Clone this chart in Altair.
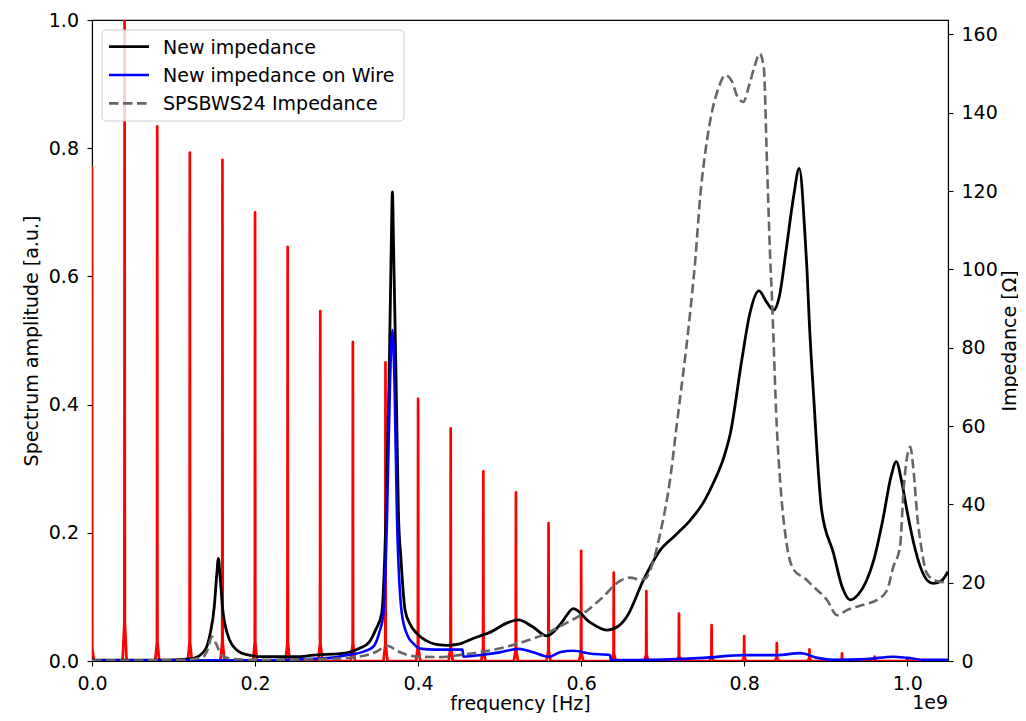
import altair as alt
import pandas as pd

# ---------------- data (frequency in units of 1e9 Hz) ----------------
spec_freq = [0.00, 0.04, 0.08, 0.12, 0.16, 0.20, 0.24, 0.28, 0.32, 0.36,
             0.40, 0.44, 0.48, 0.52, 0.56, 0.60, 0.64, 0.68, 0.72, 0.76,
             0.80, 0.84, 0.88, 0.92, 0.96, 1.00, 1.04]
spec_amp = [0.770, 1.000, 0.834, 0.793, 0.782, 0.700, 0.646, 0.546, 0.498, 0.466,
            0.409, 0.363, 0.296, 0.263, 0.215, 0.172, 0.138, 0.109, 0.074, 0.056,
            0.039, 0.028, 0.018, 0.012, 0.007, 0.003, 0.001]
spec_base = [0.020, 0.060, 0.030, 0.030, 0.030, 0.030, 0.030, 0.028, 0.028, 0.026,
             0.024, 0.022, 0.020, 0.018, 0.016, 0.014, 0.012, 0.010, 0.008, 0.007,
             0.006, 0.005, 0.004, 0.003, 0.002, 0.001, 0.0005]

black_f = [0.0, 0.05, 0.10, 0.124, 0.1387, 0.145, 0.150, 0.153, 0.155, 0.157,
           0.160, 0.166, 0.1775, 0.19, 0.21, 0.25, 0.272, 0.3125, 0.329, 0.340,
           0.348, 0.3554, 0.3607, 0.3644, 0.3670, 0.3685, 0.3700, 0.373, 0.3759, 0.379,
           0.384, 0.390, 0.398, 0.41, 0.419, 0.427, 0.435, 0.45, 0.468, 0.49,
           0.51, 0.523, 0.54, 0.558, 0.575, 0.5906, 0.61, 0.6315, 0.645, 0.656,
           0.6765, 0.697, 0.715, 0.734, 0.75, 0.762, 0.775, 0.783, 0.797, 0.807,
           0.818, 0.828, 0.836, 0.843, 0.852, 0.8605, 0.8675, 0.8748, 0.877, 0.880,
           0.885, 0.895, 0.9096, 0.920, 0.930, 0.940, 0.950, 0.959, 0.970, 0.980,
           0.9865, 0.993, 0.9996, 1.008, 1.016, 1.025, 1.032, 1.042, 1.05]
black_z = [0.2, 0.2, 0.3, 0.7, 2.8, 7.0, 13.9, 22.0, 26.2, 22.0,
           13.9, 7.0, 2.8, 1.6, 1.1, 1.1, 1.5, 2.1, 3.3, 4.8,
           8.0, 12.2, 37.7, 71.7, 105.0, 119.8, 105.0, 71.7, 37.7, 26.0,
           13.0, 9.5, 7.1, 5.2, 4.4, 4.1, 4.0, 4.3, 5.8, 7.5,
           9.8, 10.5, 8.8, 6.4, 9.5, 13.4, 10.0, 7.9, 8.8, 11.3,
           20.7, 28.3, 32.0, 36.0, 40.5, 45.4, 52.0, 58.1, 76.8, 88.8,
           94.5, 91.5, 89.6, 93.0, 105.8, 118.5, 125.8, 108.0, 100.0, 86.0,
           68.3, 38.5, 27.5, 19.0, 15.6, 17.0, 20.5, 25.8, 36.0, 47.0,
           50.9, 46.0, 38.5, 30.0, 24.1, 20.5, 19.8, 20.5, 22.8]

blue_f = [0.0, 0.2, 0.251, 0.30, 0.3125, 0.333, 0.345, 0.352, 0.3575, 0.362,
          0.3656, 0.3685, 0.371, 0.374, 0.380, 0.387, 0.394, 0.398, 0.405, 0.42,
          0.4545, 0.4555, 0.48, 0.50, 0.523, 0.54, 0.56, 0.575, 0.5906, 0.61,
          0.6355, 0.6365, 0.70, 0.75, 0.80, 0.84, 0.869, 0.89, 0.909, 0.95,
          0.983, 1.0, 1.02, 1.05]
blue_z = [0.1, 0.2, 0.4, 1.0, 1.5, 2.4, 3.65, 7.0, 12.2, 37.7,
          71.7, 84.5, 71.7, 37.7, 12.2, 6.5, 4.5, 3.65, 3.1, 2.9,
          2.9, 1.1, 1.6, 2.2, 3.1, 2.3, 1.1, 2.3, 2.6, 1.9,
          1.5, 0.25, 0.4, 0.8, 1.5, 1.5, 2.0, 0.8, 0.3, 0.5,
          1.1, 0.8, 0.3, 0.3]

gray_f = [0.0, 0.10, 0.135, 0.142, 0.147, 0.152, 0.159, 0.17, 0.20, 0.30,
          0.33, 0.35, 0.362, 0.375, 0.39, 0.40, 0.427, 0.45, 0.48, 0.50,
          0.523, 0.558, 0.58, 0.603, 0.625, 0.648, 0.66, 0.672, 0.678, 0.689,
          0.697, 0.709, 0.717, 0.734, 0.740, 0.746, 0.753, 0.760, 0.768, 0.777,
          0.785, 0.792, 0.799, 0.806, 0.813, 0.819, 0.824, 0.828, 0.832, 0.834,
          0.840, 0.844, 0.852, 0.861, 0.875, 0.885, 0.9015, 0.914, 0.926, 0.945,
          0.963, 0.975, 0.983, 0.991, 0.996, 1.0037, 1.008, 1.012, 1.018, 1.024,
          1.035, 1.05]
gray_z = [0.1, 0.2, 0.8, 3.0, 6.2, 4.5, 1.5, 0.6, 0.3, 0.6,
          1.2, 2.5, 3.9, 2.5, 1.4, 1.1, 1.0, 1.5, 2.4, 3.2,
          4.5, 7.1, 9.5, 12.2, 16.0, 20.5, 21.3, 20.8, 21.0, 25.8,
          32.6, 46.2, 59.8, 89.6, 102.4, 118.5, 131.0, 139.8, 146.0, 149.6,
          148.0, 144.0, 142.8, 147.0, 152.0, 155.1, 151.7, 127.0, 102.4, 93.0,
          59.8, 46.2, 30.0, 23.2, 21.0, 19.0, 15.6, 11.7, 13.0, 14.3,
          15.6, 18.0, 24.1, 29.0, 45.0, 54.7, 48.0, 37.7, 28.0, 22.4,
          20.5, 20.0]

series_names = ["New impedance", "New impedance on Wire", "SPSBWS24 Impedance"]
series_colors = ["#000000", "#0000ff", "#666666"]

x_ticks = [0.0, 0.2, 0.4, 0.6, 0.8, 1.0]
left_ticks = [0.0, 0.2, 0.4, 0.6, 0.8, 1.0]
right_ticks = [0, 20, 40, 60, 80, 100, 120, 140, 160]

# ---------------- tables ----------------
rows = []
i = 0
for f, a, b in zip(spec_freq, spec_amp, spec_base):
    for df_, v in [(-0.0025, 0.0), (-0.0003, b), (0.0, a), (0.0003, b), (0.0025, 0.0)]:
        rows.append({"f": f + df_, "a": v, "i": i})
        i += 1
spec_df = pd.DataFrame(rows)

black_df = pd.DataFrame({"f": black_f, "z": black_z})
blue_df = pd.DataFrame({"f": blue_f, "z": blue_z})
gray_df = pd.DataFrame({"f": gray_f, "z": gray_z})

W, H = 856, 641
FONT = "DejaVu Sans"
FS = 19
BOTTOM_TEXT = 48  # baseline of x title / offset text below plot bottom

x_enc = alt.X("f:Q", scale=alt.Scale(domain=[0, 1.05], nice=False, zero=False),
              axis=alt.Axis(values=x_ticks, format=".1f", title="frequency [Hz]",
                            labelFlush=False, labelOverlap=False, labelPadding=8,
                            titleX=W / 2, titleY=BOTTOM_TEXT, titleBaseline="alphabetic",
                            titleAlign="center"))

spec = alt.Chart(spec_df).mark_line(color="#ff0000", strokeWidth=2.7, clip=True,
                                    strokeJoin="round").encode(
    x=x_enc,
    y=alt.Y("a:Q", scale=alt.Scale(domain=[0, 1.0], nice=False),
            axis=alt.Axis(values=left_ticks, format=".1f", orient="left",
                          title="Spectrum amplitude [a.u.]", labelPadding=8.5,
                          labelOverlap=False, labelFlush=False,
                          titleAngle=270, titleX=-61, titleY=H / 2,
                          titleBaseline="middle", titleAlign="center")),
    order="i:Q",
)

imp_y = alt.Y("z:Q", scale=alt.Scale(domain=[0, 163.7], nice=False),
              axis=alt.Axis(values=right_ticks, format="d", orient="right",
                            title="Impedance [Ω]", labelPadding=8,
                            labelOverlap=False, labelFlush=False,
                            titleAngle=270, titleX=61, titleY=H / 2,
                            titleBaseline="middle", titleAlign="center"))

def imp_line(df, color, width, dash=None):
    kw = dict(color=color, strokeWidth=width, clip=True, interpolate="monotone")
    if dash is not None:
        kw["strokeDash"] = dash
    return alt.Chart(df).mark_line(**kw).encode(x=alt.X("f:Q"), y=imp_y)

imp = alt.layer(
    imp_line(black_df, series_colors[0], 2.8),
    imp_line(blue_df, series_colors[1], 2.6),
    imp_line(gray_df, series_colors[2], 2.6, [9.5, 4.5]),
)

# ---------------- legend (matplotlib style box) ----------------
dummy = pd.DataFrame({"d": [0]})
leg_box = alt.Chart(dummy).mark_rect(fill="white", fillOpacity=0.8, stroke="#cccccc",
                                     strokeWidth=1, cornerRadius=4).encode(
    x=alt.value(10), x2=alt.value(312), y=alt.value(10), y2=alt.value(101))

leg_layers = [leg_box]
sym_y = [26.7, 55.0, 83.3]
txt_y = [34.0, 62.0, 90.0]
dashes = [None, None, [9.5, 4.5]]
for name, col, sy, ty, dsh in zip(series_names, series_colors, sym_y, txt_y, dashes):
    kw = dict(color=col, strokeWidth=2.7)
    if dsh is not None:
        kw["strokeDash"] = dsh
    leg_layers.append(alt.Chart(dummy).mark_rule(**kw).encode(
        x=alt.value(17), x2=alt.value(57), y=alt.value(sy)))
    leg_layers.append(alt.Chart(dummy).mark_text(
        text=name, font=FONT, fontSize=FS, align="left", baseline="alphabetic",
        color="black").encode(x=alt.value(71), y=alt.value(ty)))

offset_txt = alt.Chart(dummy).mark_text(
    text="1e9", font=FONT, fontSize=FS, align="right", baseline="alphabetic",
    color="black").encode(x=alt.value(W), y=alt.value(H + BOTTOM_TEXT))

chart = alt.layer(spec, imp, *leg_layers, offset_txt).resolve_scale(
    y="independent"
).properties(
    width=W, height=H,
    autosize=alt.AutoSizeParams(type="none"),
    padding={"left": 84, "top": 12, "right": 70, "bottom": 52},
).configure_view(
    stroke="black", strokeWidth=1.1
).configure_axis(
    labelFont=FONT, titleFont=FONT, labelFontSize=FS, titleFontSize=FS,
    labelColor="black", titleColor="black", titleFontWeight="normal",
    domainColor="black", tickColor="black", grid=False, tickSize=5,
    domainWidth=1.1, tickWidth=1.1,
)

chart.save("out.html", embed_options={"renderer": "svg", "actions": False})
